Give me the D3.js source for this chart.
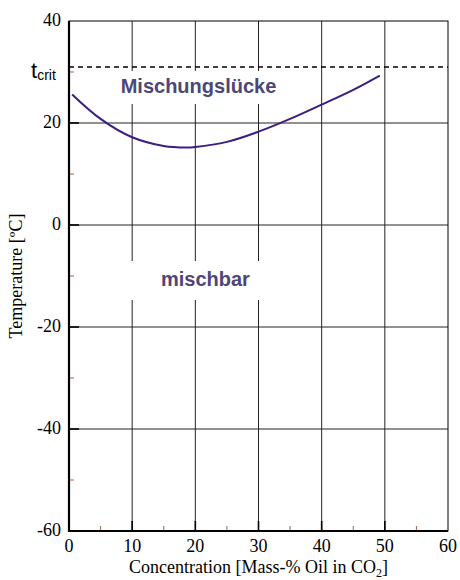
<!DOCTYPE html>
<html>
<head>
<meta charset="utf-8">
<script src="https://cdn.jsdelivr.net/npm/d3@7"></script>
<style>
  html, body { margin: 0; padding: 0; background: #fff; }
  svg { display: block; }
</style>
</head>
<body>
<svg id="chart" width="460" height="580"></svg>
<script>
// Miscibility curve of CO2 / oil: temperature vs. oil concentration
const concentration = [0.5, 5, 10, 15, 18.6, 20, 25, 30, 35, 40, 45, 49.2];
const temperature   = [25.6, 20.8, 17.2, 15.5, 15.2, 15.3, 16.3, 18.3, 20.8, 23.6, 26.5, 29.3];
const tCrit = 31;
const xMajorTicks = [0, 10, 20, 30, 40, 50, 60];
const xMinorTicks = [5, 15, 25, 35, 45, 55];
const yMajorTicks = [40, 20, 0, -20, -40, -60];
const yMinorTicks = [30, 10, -10, -30, -50];
const regionLabels = [
  { text: "Mischungslücke", x: 20.5, y: 25.8 },
  { text: "mischbar", x: 21.6, y: -11.9 }
];

const svg = d3.select("#chart");
const plotL = 69, plotR = 448, plotT = 21, plotB = 531;

const x = d3.scaleLinear().domain([0, 60]).range([plotL, plotR]);
const y = d3.scaleLinear().domain([-60, 40]).range([plotB, plotT]);

const serif = "'Liberation Serif', 'Times New Roman', serif";
const sans = "'Liberation Sans', Arial, sans-serif";

// grid lines
const grid = svg.append("g").attr("stroke", "#222").attr("stroke-width", 1);
grid.selectAll("line.v").data(xMajorTicks.slice(1, -1)).join("line")
  .attr("x1", d => x(d)).attr("x2", d => x(d)).attr("y1", plotT).attr("y2", plotB);
grid.selectAll("line.h").data(yMajorTicks.slice(1, -1)).join("line")
  .attr("x1", plotL).attr("x2", plotR).attr("y1", d => y(d)).attr("y2", d => y(d));

// white boxes behind region labels
const boxes = [
  { x0: 112, x1: 300, y0: 71, y1: 104 },
  { x0: 124, x1: 290, y0: 261, y1: 300 }
];
svg.append("g").selectAll("rect").data(boxes).join("rect")
  .attr("x", d => d.x0).attr("y", d => d.y0)
  .attr("width", d => d.x1 - d.x0).attr("height", d => d.y1 - d.y0)
  .attr("fill", "#fff");

// critical temperature
svg.append("line")
  .attr("x1", plotL).attr("x2", plotR)
  .attr("y1", y(tCrit)).attr("y2", y(tCrit))
  .attr("stroke", "#000").attr("stroke-width", 1.5)
  .attr("stroke-dasharray", "5,4");

// minor ticks (inside)
const minor = svg.append("g").attr("stroke", "#a0623e").attr("stroke-width", 1);
minor.selectAll("line.mx").data(xMinorTicks).join("line")
  .attr("x1", d => x(d)).attr("x2", d => x(d)).attr("y1", plotB).attr("y2", plotB - 5);
minor.selectAll("line.my").data(yMinorTicks).join("line")
  .attr("x1", plotL).attr("x2", plotL + 5).attr("y1", d => y(d)).attr("y2", d => y(d));

// major ticks (inside)
const major = svg.append("g").attr("stroke", "#000").attr("stroke-width", 1.6);
major.selectAll("line.tx").data(xMajorTicks.slice(1, -1)).join("line")
  .attr("x1", d => x(d)).attr("x2", d => x(d)).attr("y1", plotB).attr("y2", plotB - 10);
major.selectAll("line.ty").data(yMajorTicks.slice(1, -1)).join("line")
  .attr("x1", plotL).attr("x2", plotL + 10).attr("y1", d => y(d)).attr("y2", d => y(d));

// frame
svg.append("rect")
  .attr("x", plotL).attr("y", plotT).attr("width", plotR - plotL).attr("height", plotB - plotT)
  .attr("fill", "none").attr("stroke", "#000").attr("stroke-width", 1);
svg.append("path")
  .attr("d", `M${plotL},${plotT}V${plotB}H${plotR}`)
  .attr("fill", "none").attr("stroke", "#000").attr("stroke-width", 2.2);

// miscibility curve
const pts = concentration.map((c, i) => [c, temperature[i]]);
svg.append("path")
  .datum(pts)
  .attr("fill", "none")
  .attr("stroke", "#3c1d84")
  .attr("stroke-width", 2)
  .attr("d", d3.line().x(d => x(d[0])).y(d => y(d[1])).curve(d3.curveCatmullRom.alpha(0.5)));

// tick labels
svg.append("g").selectAll("text").data(xMajorTicks).join("text")
  .attr("x", d => x(d)).attr("y", 552)
  .attr("text-anchor", "middle")
  .attr("font-family", serif).attr("font-size", 18)
  .text(d => d);
svg.append("g").selectAll("text").data(yMajorTicks).join("text")
  .attr("x", 61).attr("y", d => y(d) + 4.5)
  .attr("text-anchor", "end")
  .attr("font-family", serif).attr("font-size", 18)
  .text(d => d);

// t_crit label
const tc = svg.append("text")
  .attr("x", 31).attr("y", 78)
  .attr("font-family", sans).attr("fill", "#000");
tc.append("tspan").attr("font-size", 22).text("t");
tc.append("tspan").attr("font-size", 14).attr("dy", 2).text("crit");

// region labels
svg.append("g").selectAll("text").data(regionLabels).join("text")
  .attr("x", d => x(d.x)).attr("y", d => y(d.y))
  .attr("text-anchor", "middle")
  .attr("font-family", sans).attr("font-weight", "bold").attr("font-size", 20)
  .attr("fill", "#4d4677")
  .text(d => d.text);

// axis titles
const xt = svg.append("text")
  .attr("x", (plotL + plotR) / 2).attr("y", 573)
  .attr("text-anchor", "middle")
  .attr("font-family", serif).attr("font-size", 18);
xt.append("tspan").text("Concentration [Mass-% Oil in CO");
xt.append("tspan").attr("font-size", 12).attr("dy", 4).text("2");
xt.append("tspan").attr("dy", -4).text("]");

svg.append("text")
  .attr("transform", `translate(22,${(plotT + plotB) / 2}) rotate(-90)`)
  .attr("text-anchor", "middle")
  .attr("font-family", serif).attr("font-size", 18)
  .text("Temperature [ºC]");
</script>
</body>
</html>
